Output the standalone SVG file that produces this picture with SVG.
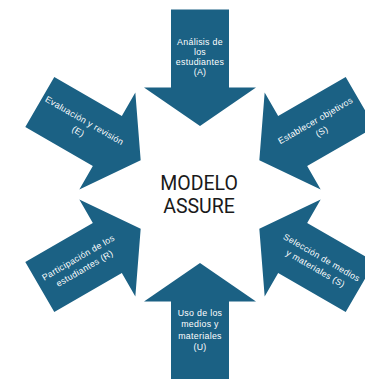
<svg xmlns="http://www.w3.org/2000/svg" width="365" height="379" viewBox="0 0 365 379">
<defs>
<style>
.arr{fill:#1b6184}
.lbl{fill:#ffffff;font-family:"Liberation Sans",Arial,sans-serif;font-size:8.8px;letter-spacing:0.3px;text-anchor:middle}
.ttl{fill:#1a1a1a;font-family:Roboto,"Liberation Sans",sans-serif;font-size:19.5px;text-anchor:middle}
</style>
<path id="arrow" d="M0,-68.5 L56,-107 L29,-107 L29,-185 L-29,-185 L-29,-107 L-56,-107 Z"/>
</defs>
<rect width="365" height="379" fill="#ffffff"/>
<g id="connectors"/>
<g id="node-A">
<use href="#arrow" class="arr" transform="translate(200,194.5)"/>
<text class="lbl"><tspan x="200" y="44.5">Análisis de</tspan><tspan x="200" y="54.5">los</tspan><tspan x="200" y="64.5">estudiantes</tspan><tspan x="200" y="74.5">(A)</tspan></text>
</g>
<g id="node-S1">
<use href="#arrow" class="arr" transform="translate(200,194.5) rotate(60)"/>
<g transform="translate(318.6,126) rotate(-30)"><text class="lbl"><tspan x="0" y="-3.25">Establecer objetivos</tspan><tspan x="0" y="9.25">(S)</tspan></text></g>
</g>
<g id="node-S2">
<use href="#arrow" class="arr" transform="translate(200,194.5) rotate(120)"/>
<g transform="translate(318.6,263) rotate(30)"><text class="lbl"><tspan x="0" y="-3.25">Selección de medios</tspan><tspan x="0" y="9.25">y materiales (S)</tspan></text></g>
</g>
<g id="node-U">
<use href="#arrow" class="arr" transform="translate(200,194.5) rotate(180)"/>
<text class="lbl"><tspan x="200" y="316">Uso de los</tspan><tspan x="200" y="327.3">medios y</tspan><tspan x="200" y="338.6">materiales</tspan><tspan x="200" y="350">(U)</tspan></text>
</g>
<g id="node-R">
<use href="#arrow" class="arr" transform="translate(200,194.5) rotate(240)"/>
<g transform="translate(81.4,263) rotate(-30)"><text class="lbl"><tspan x="0" y="-3.25">Participación de los</tspan><tspan x="0" y="9.25">estudiantes (R)</tspan></text></g>
</g>
<g id="node-E">
<use href="#arrow" class="arr" transform="translate(200,194.5) rotate(300)"/>
<g transform="translate(81.4,126) rotate(30)"><text class="lbl"><tspan x="0" y="-3.25">Evaluación y revisión</tspan><tspan x="0" y="9.25">(E)</tspan></text></g>
</g>
<g id="node-center">
<text class="ttl"><tspan x="199" y="190">MODELO</tspan><tspan x="199" y="212.5">ASSURE</tspan></text>
</g>
</svg>
